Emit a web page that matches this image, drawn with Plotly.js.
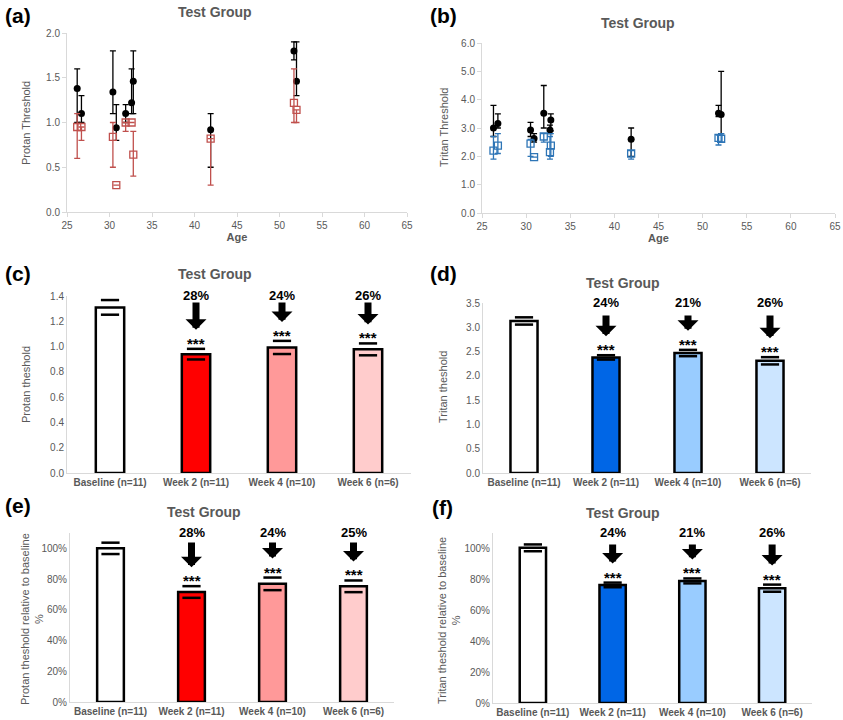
<!DOCTYPE html>
<html><head><meta charset="utf-8">
<script src="https://cdn.plot.ly/plotly-3.0.1.min.js"></script>
<style>html,body{margin:0;padding:0;background:#fff}#chart{width:843px;height:720px}</style>
</head><body><div id="chart"></div>
<script>
// ---------------- DATA ----------------
// Panel (a): protan threshold vs age
const agesA = [26.2, 26.7, 30.4, 30.8, 31.9, 32.6, 32.8, 41.9, 51.7, 52.0];
const protanBase = [1.38, 1.10, 1.34, 0.94, 1.10, 1.22, 1.46, 0.92, 1.80, 1.46];
const protanBasePlus = [0.22, 0.20, 0.46, 0.26, 0.10, 0.38, 0.34, 0.18, 0.10, 0.44];
const protanBaseMinus = [0.38, 0.10, 0.24, 0.14, 0.10, 0.12, 0.36, 0.42, 0.10, 0.16];
const protanW2 = [0.95, 0.95, 0.84, 0.30, 1.00, 1.00, 0.64, 0.82, 1.22, 1.14];
const protanW2Plus = [0.15, 0.00, 0.16, 0.00, 0.00, 0.00, 0.26, 0.00, 0.38, 0.00];
const protanW2Minus = [0.35, 0.15, 0.34, 0.00, 0.10, 0.00, 0.24, 0.52, 0.22, 0.14];
// Panel (b): tritan threshold vs age
const agesB = [26.3, 26.8, 30.5, 30.9, 32.0, 32.7, 32.8, 41.9, 51.8, 52.1];
const tritanBase = [3.00, 3.16, 2.93, 2.63, 3.52, 2.93, 3.28, 2.60, 3.52, 3.48];
const tritanBasePlus = [0.80, 0.34, 0.27, 0.17, 0.98, 0.17, 0.22, 0.40, 0.28, 1.52];
const tritanBaseMinus = [0.30, 0.16, 0.23, 0.13, 0.52, 0.13, 0.38, 0.60, 0.12, 0.68];
const tritanW2 = [2.20, 2.38, 2.45, 1.97, 2.70, 2.15, 2.38, 2.10, 2.65, 2.62];
const tritanW2Plus = [0.50, 0.42, 0.15, 0.00, 0.10, 0.55, 0.42, 0.10, 0.10, 0.18];
const tritanW2Minus = [0.30, 0.28, 0.45, 0.00, 0.20, 0.25, 0.38, 0.20, 0.25, 0.12];
// Bar panels
const categories = ['Baseline (n=11)', 'Week 2 (n=11)', 'Week 4 (n=10)', 'Week 6 (n=6)'];
const protanMean = [1.31, 0.94, 0.993, 0.978];
const protanErr = [0.058, 0.042, 0.052, 0.047];
const tritanMean = [3.13, 2.38, 2.47, 2.31];
const tritanErr = [0.075, 0.045, 0.065, 0.075];
const protanRel = [1.00, 0.716, 0.769, 0.753];
const protanRelErr = [0.037, 0.038, 0.041, 0.038];
const tritanRel = [1.004, 0.764, 0.790, 0.743];
const tritanRelErr = [0.022, 0.015, 0.016, 0.023];
const protanDropC = ['28%', '24%', '26%'];
const tritanDropD = ['24%', '21%', '26%'];
const protanDropE = ['28%', '24%', '25%'];
const tritanDropF = ['24%', '21%', '26%'];
const signif = ['***', '***', '***'];

// ---------------- STYLE / LAYOUT ----------------
const W = 843, H = 720;
const FONT = 'Liberation Sans, Arial, sans-serif';
const GREY = '#595959';
const AXC = '#d9d9d9';
const px = (a, b) => [a / W, b / W];
const py = (top, bot) => [1 - bot / H, 1 - top / H];

const traces = [];
const annotations = [];
const layout = {
  width: W, height: H, margin: {l: 0, r: 0, t: 0, b: 0},
  paper_bgcolor: '#fff', plot_bgcolor: '#fff', showlegend: false,
  font: {family: FONT, color: GREY, size: 10},
  barmode: 'overlay', bargap: 0.67
};

function panelText(letter, lx, ly, tx, ty) {
  annotations.push({xref: 'paper', yref: 'paper', x: lx / W, y: 1 - ly / H, xanchor: 'left', yanchor: 'middle',
    text: '<b>' + letter + '</b>', showarrow: false, font: {family: FONT, size: 21, color: '#000'}});
  annotations.push({xref: 'paper', yref: 'paper', x: tx / W, y: 1 - ty / H, xanchor: 'center', yanchor: 'middle',
    text: '<b>Test Group</b>', showarrow: false, font: {family: FONT, size: 14, color: GREY}});
}

function yTitle(text, cx, cy) {
  annotations.push({xref: 'paper', yref: 'paper', x: cx / W, y: 1 - cy / H, xanchor: 'center', yanchor: 'middle',
    text: text, textangle: -90, showarrow: false, font: {family: FONT, size: 11, color: GREY}});
}

function scatterPanel(n, dom, ydom, ages, base, bp, bm, w2, wp, wm, col, yrange, dtick) {
  const xa = 'x' + n, ya = 'y' + n;
  traces.push({type: 'scatter', mode: 'markers', x: ages, y: base, xaxis: xa, yaxis: ya,
    marker: {symbol: 'circle', size: 7, color: '#000'},
    error_y: {type: 'data', symmetric: false, array: bp, arrayminus: bm, color: '#000', thickness: 1.3, width: 3}});
  traces.push({type: 'scatter', mode: 'markers', x: ages, y: w2, xaxis: xa, yaxis: ya,
    marker: {symbol: 'square-open', size: 7, color: col, line: {width: 1.3, color: col}},
    error_y: {type: 'data', symmetric: false, array: wp, arrayminus: wm, color: col, thickness: 1.3, width: 3}});
  layout['xaxis' + n] = {domain: dom, anchor: ya, range: [25, 65], dtick: 5, tick0: 25,
    showline: true, linecolor: AXC, linewidth: 1, ticks: 'outside', ticklen: 4, tickcolor: AXC,
    showgrid: false, zeroline: false, tickfont: {family: FONT, size: 10, color: GREY},
    title: {text: '<b>Age</b>', standoff: 3, font: {family: FONT, size: 11, color: GREY}}};
  layout['yaxis' + n] = {domain: ydom, anchor: xa, range: yrange, dtick: dtick, tickformat: '.1f',
    showline: true, linecolor: AXC, linewidth: 1, ticks: 'outside', ticklen: 4, tickcolor: AXC,
    showgrid: false, zeroline: false, tickfont: {family: FONT, size: 10, color: GREY}};
}

function barPanel(n, dom, ydom, vals, errs, colors, yrange, ytick, drops, tailPx) {
  const xa = 'x' + n, ya = 'y' + n;
  traces.push({type: 'bar', x: categories, y: vals, xaxis: xa, yaxis: ya,
    marker: {color: colors, line: {color: '#000', width: 2.5}}});
  const capStyle = {symbol: 'line-ew', size: 13, color: '#000', line: {width: 2.5, color: '#000'}};
  traces.push({type: 'scatter', mode: 'markers', x: categories, y: vals.map((v, i) => v + errs[i]),
    xaxis: xa, yaxis: ya, marker: capStyle, hoverinfo: 'skip'});
  traces.push({type: 'scatter', mode: 'markers', x: categories, y: vals.map((v, i) => v - errs[i]),
    xaxis: xa, yaxis: ya, marker: capStyle, hoverinfo: 'skip'});
  layout['xaxis' + n] = {domain: dom, anchor: ya, type: 'category', range: [-0.5, 3.5],
    showline: true, linecolor: AXC, linewidth: 1, ticks: '', showgrid: false, zeroline: false,
    tickfont: {family: FONT, size: 10, color: GREY, weight: 'bold'}};
  layout['yaxis' + n] = Object.assign({domain: ydom, anchor: xa, range: yrange,
    showline: true, linecolor: AXC, linewidth: 1, ticks: '', showgrid: false, zeroline: false,
    tickfont: {family: FONT, size: 10, color: GREY}}, ytick);
  const hPx = (ydom[1] - ydom[0]) * H;
  const perPx = (yrange[1] - yrange[0]) / hPx;
  for (let k = 1; k < 4; k++) {
    const cap = vals[k] + errs[k];
    annotations.push({xref: xa, yref: ya + ' domain', x: k, y: 1, yanchor: 'middle', yshift: 1,
      text: '<b>' + drops[k - 1] + '</b>', showarrow: false, font: {family: FONT, size: 13, color: '#000'}});
    annotations.push({xref: xa, yref: ya, x: k, y: cap + 19 * perPx,
      axref: xa, ayref: ya, ax: k, ay: yrange[1] - tailPx * perPx,
      showarrow: true, arrowhead: 1, arrowwidth: 7, arrowsize: 0.5, arrowcolor: '#000', standoff: 0, text: ''});
    annotations.push({xref: xa, yref: ya, x: k, y: cap, yanchor: 'bottom', yshift: -5,
      text: '<b>' + signif[k - 1] + '</b>', showarrow: false, font: {family: FONT, size: 15, color: '#000'}});
  }
}

// (a)
panelText('(a)', 3, 15, 215, 12);
scatterPanel(1, px(67, 407), py(33, 212), agesA, protanBase, protanBasePlus, protanBaseMinus,
  protanW2, protanW2Plus, protanW2Minus, '#c0504d', [0, 2], 0.5);
yTitle('Protan Threshold', 26, 123);
// (b)
panelText('(b)', 428, 15, 638, 23);
scatterPanel(2, px(482, 835), py(43, 213), agesB, tritanBase, tritanBasePlus, tritanBaseMinus,
  tritanW2, tritanW2Plus, tritanW2Minus, '#2e75b6', [0, 6], 1);
yTitle('Tritan Threshold', 444, 128);
// (c)
panelText('(c)', 3, 273, 215, 274);
barPanel(3, px(67, 411), py(296, 473), protanMean, protanErr, ['#ffffff', '#ff0000', '#ff9999', '#ffcccc'],
  [0, 1.4], {dtick: 0.2, tickformat: '.1f'}, protanDropC, 5);
yTitle('Protan theshold', 26, 385);
// (d)
panelText('(d)', 428, 273, 623, 283);
barPanel(4, px(483, 811), py(303, 473), tritanMean, tritanErr, ['#ffffff', '#0066e6', '#99ccff', '#cce5ff'],
  [0, 3.5], {dtick: 0.5, tickformat: '.1f'}, tritanDropD, 11);
yTitle('Tritan theshold', 443, 387);
// (e)
panelText('(e)', 3, 506, 204, 512);
barPanel(5, px(70, 394), py(533, 702), protanRel, protanRelErr, ['#ffffff', '#ff0000', '#ff9999', '#ffcccc'],
  [0, 1.1], {tickvals: [0, 0.2, 0.4, 0.6, 0.8, 1.0], tickformat: '.0%'}, protanDropE, 8);
yTitle('Protan theshold relative to baseline<br>%', 32, 619);
// (f)
panelText('(f)', 430, 507, 623, 513);
barPanel(6, px(493, 812), py(533, 703), tritanRel, tritanRelErr, ['#ffffff', '#0066e6', '#99ccff', '#cce5ff'],
  [0, 1.1], {tickvals: [0, 0.2, 0.4, 0.6, 0.8, 1.0], tickformat: '.0%'}, tritanDropF, 10);
yTitle('Tritan theshold relative to baseline<br>%', 449, 620);

layout.annotations = annotations;
Plotly.newPlot('chart', traces, layout, {staticPlot: true, displayModeBar: false});
</script></body></html>
